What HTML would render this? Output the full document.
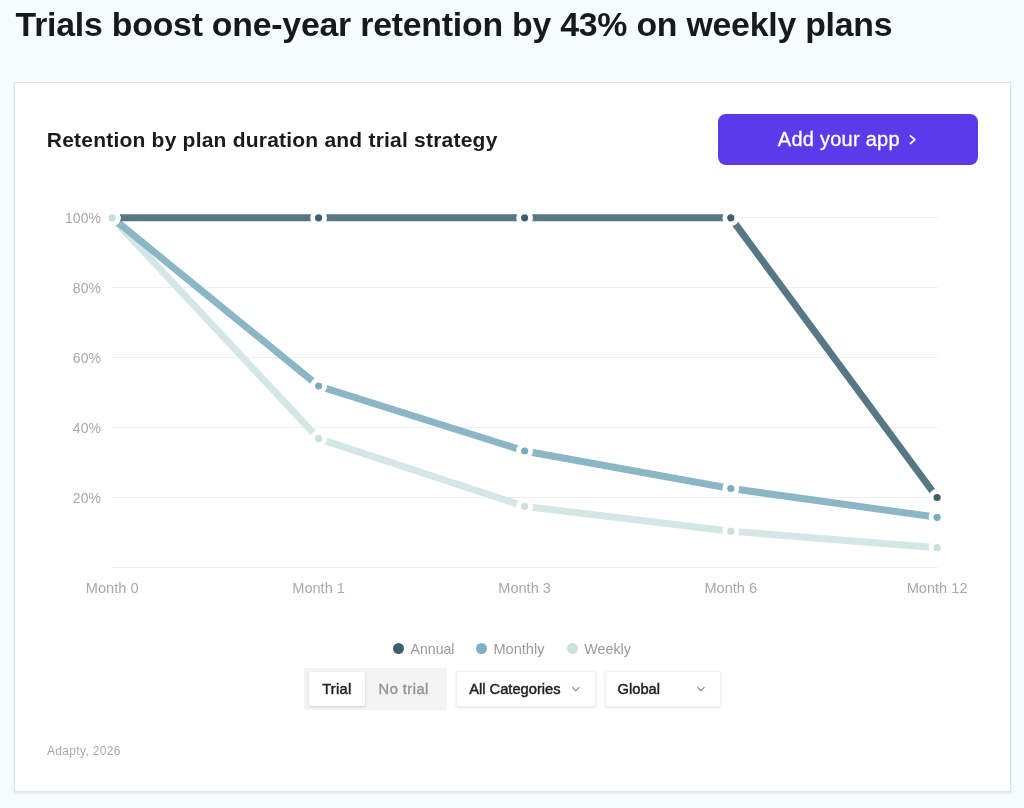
<!DOCTYPE html>
<html lang="en">
<head>
<meta charset="utf-8">
<title>Trials boost one-year retention by 43% on weekly plans</title>
<style>
*{box-sizing:border-box;margin:0;padding:0}
html,body{width:1024px;height:808px;overflow:hidden}
body{background:#f6fbfb;font-family:"Liberation Sans",sans-serif;position:relative;color:#1a1a1a}
.abs{position:absolute;white-space:nowrap;line-height:1}
#card{position:absolute;left:14px;top:82px;width:997px;height:710px;background:#fff;border:1px solid #dae5e6;box-shadow:0 1px 2px rgba(120,150,160,.22)}
#btn{position:absolute;left:718px;top:114px;width:260px;height:50.5px;border-radius:8px;background:#5b3be9}
.dot{position:absolute;width:11px;height:11px;border-radius:50%}
#tg{position:absolute;left:304.4px;top:668.2px;width:143px;height:42px;background:#f3f3f3;border-radius:2px}
#tga{position:absolute;left:308.5px;top:672px;width:56.5px;height:34.4px;background:#fff;border-radius:2px;box-shadow:0 1px 3px rgba(0,0,0,.16)}
.dd{position:absolute;top:671px;height:36.2px;background:#fff;border:1px solid #f1f1f1;border-radius:2px;box-shadow:0 1px 3px rgba(0,0,0,.11)}
svg{position:absolute;left:0;top:0}
</style>
</head>
<body>
<div class="abs" id="title" style="top:8.19px;font-size:33.8px;color:#17191b;font-weight:700;letter-spacing:-0.215px;left:15.6px;">Trials boost one-year retention by 43% on weekly plans</div>
<div id="card"></div>
<div class="abs" id="sub" style="top:128.92px;font-size:21px;color:#1b1b1d;font-weight:700;letter-spacing:0.215px;left:46.8px;">Retention by plan duration and trial strategy</div>
<div id="btn"></div>
<div class="abs" id="btntxt" style="top:129.47px;font-size:20px;color:#ffffff;letter-spacing:0.25px;left:777.8px;-webkit-text-stroke:0.3px #fff;">Add your app</div>

<svg width="1024" height="808" viewBox="0 0 1024 808">
  <g stroke="#eeeeee" stroke-width="1" fill="none">
    <line x1="112" y1="217.5" x2="937.5" y2="217.5"/>
    <line x1="112" y1="287.5" x2="937.5" y2="287.5"/>
    <line x1="112" y1="357.5" x2="937.5" y2="357.5"/>
    <line x1="112" y1="427.5" x2="937.5" y2="427.5"/>
    <line x1="112" y1="497.5" x2="937.5" y2="497.5"/>
    <line x1="112" y1="567.5" x2="937.5" y2="567.5"/>
  </g>
  <g fill="none" stroke-width="7" stroke-linejoin="miter" stroke-linecap="butt">
    <polyline stroke="#d4e6e6" points="112.2,217.8 318.6,438.6 524.6,506.4 730.8,531.2 937.1,547.7"/>
    <polyline stroke="#8bb6c5" points="112.2,217.8 318.6,386.0 524.6,451.0 730.8,488.5 937.1,517.3"/>
    <polyline stroke="#567783" points="112.2,217.8 318.6,217.8 524.6,217.8 730.8,217.8 937.1,497.5"/>
  </g>
  <g stroke="#ffffff" stroke-width="4.8">
    <g fill="#3f5f6b"><circle cx="112.2" cy="217.8" r="6.0"/><circle cx="318.6" cy="217.8" r="6.0"/><circle cx="524.6" cy="217.8" r="6.0"/><circle cx="730.8" cy="217.8" r="6.0"/><circle cx="937.1" cy="497.5" r="6.0"/></g>
    <g fill="#7aabbf"><circle cx="112.2" cy="217.8" r="6.0"/><circle cx="318.6" cy="386.0" r="6.0"/><circle cx="524.6" cy="451.0" r="6.0"/><circle cx="730.8" cy="488.5" r="6.0"/><circle cx="937.1" cy="517.3" r="6.0"/></g>
    <g fill="#c9dfdc"><circle cx="112.2" cy="217.8" r="6.0"/><circle cx="318.6" cy="438.6" r="6.0"/><circle cx="524.6" cy="506.4" r="6.0"/><circle cx="730.8" cy="531.2" r="6.0"/><circle cx="937.1" cy="547.7" r="6.0"/></g>
  </g>
  <path d="M910.4 135.85 L914.9 139.7 L910.4 143.55" fill="none" stroke="#fff" stroke-width="1.7" stroke-linecap="round" stroke-linejoin="round"/>
</svg>

<div class="abs" style="top:210.75px;font-size:14px;color:#a8a8a8;left:20.9px;width:80px;text-align:right;">100%</div>
<div class="abs" style="top:280.75px;font-size:14px;color:#a8a8a8;left:20.9px;width:80px;text-align:right;">80%</div>
<div class="abs" style="top:350.75px;font-size:14px;color:#a8a8a8;left:20.9px;width:80px;text-align:right;">60%</div>
<div class="abs" style="top:420.75px;font-size:14px;color:#a8a8a8;left:20.9px;width:80px;text-align:right;">40%</div>
<div class="abs" style="top:490.75px;font-size:14px;color:#a8a8a8;left:20.9px;width:80px;text-align:right;">20%</div>

<div class="abs" style="top:580.64px;font-size:14.6px;color:#a8a8a8;left:52.2px;width:120px;text-align:center;">Month 0</div>
<div class="abs" style="top:580.64px;font-size:14.6px;color:#a8a8a8;left:258.6px;width:120px;text-align:center;">Month 1</div>
<div class="abs" style="top:580.64px;font-size:14.6px;color:#a8a8a8;left:464.6px;width:120px;text-align:center;">Month 3</div>
<div class="abs" style="top:580.64px;font-size:14.6px;color:#a8a8a8;left:670.8px;width:120px;text-align:center;">Month 6</div>
<div class="abs" style="top:580.64px;font-size:14.6px;color:#a8a8a8;left:877.1px;width:120px;text-align:center;">Month 12</div>

<div class="dot" style="left:393.3px;top:643.2px;background:#3e606e"></div>
<div class="abs" id="lg1" style="top:642.06px;font-size:14.1px;color:#9a9a9a;left:410.6px;">Annual</div>
<div class="dot" style="left:476px;top:643.2px;background:#7cafc3"></div>
<div class="abs" id="lg2" style="top:641.64px;font-size:14.6px;color:#9a9a9a;left:493.4px;">Monthly</div>
<div class="dot" style="left:566.9px;top:643.2px;background:#cbe1de"></div>
<div class="abs" id="lg3" style="top:641.90px;font-size:14.3px;color:#9a9a9a;left:584.3px;">Weekly</div>

<div id="tg"></div>
<div id="tga"></div>
<div class="abs" id="c1" style="top:682.06px;font-size:14.7px;color:#222224;letter-spacing:0.25px;left:322.2px;-webkit-text-stroke:0.45px #222224;">Trial</div>
<div class="abs" id="c2" style="top:682.06px;font-size:14.7px;color:#959595;letter-spacing:0.45px;left:378.6px;-webkit-text-stroke:0.4px #959595;">No trial</div>
<div class="dd" style="left:456.1px;width:139.6px"></div>
<div class="abs" id="c3" style="top:682.06px;font-size:14.7px;color:#222224;left:469.2px;-webkit-text-stroke:0.45px #222224;">All Categories</div>
<div class="dd" style="left:604.6px;width:116.8px"></div>
<div class="abs" id="c4" style="top:682.06px;font-size:14.7px;color:#222224;left:617.6px;-webkit-text-stroke:0.45px #222224;">Global</div>

<svg width="1024" height="808" viewBox="0 0 1024 808" style="pointer-events:none">
  <path d="M572.6 687.5 L575.8 690.7 L579.0 687.5" fill="none" stroke="#979797" stroke-width="1.3" stroke-linecap="round" stroke-linejoin="round"/>
  <path d="M697.7 687.5 L700.9 690.7 L704.1 687.5" fill="none" stroke="#979797" stroke-width="1.3" stroke-linecap="round" stroke-linejoin="round"/>
</svg>
<div class="abs" id="foot" style="top:744.74px;font-size:12px;color:#aaaaaa;letter-spacing:0.34px;left:46.9px;">Adapty, 2026</div>
</body>
</html>
